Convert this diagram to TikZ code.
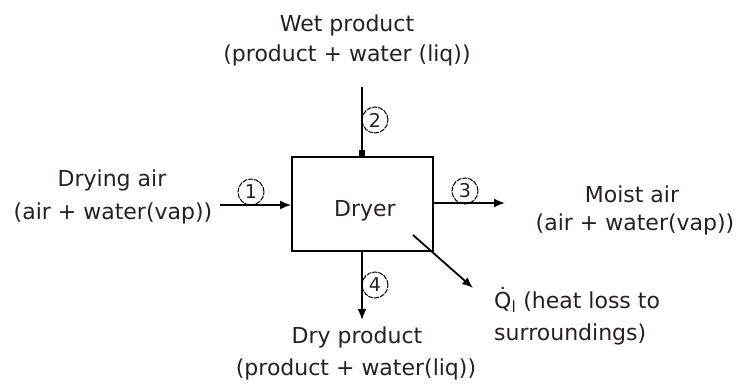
\documentclass[tikz,border=0pt]{standalone}
\usepackage{fontspec}
\setmainfont{DejaVu Sans}
\usetikzlibrary{arrows.meta}
\definecolor{txt}{RGB}{40,30,40}
\tikzset{
  lbl/.style={anchor=base, text=txt, inner sep=0pt, font=\fontsize{22}{26}\selectfont},
  num/.style={circle, draw, line width=1pt, dash pattern=on 5pt off 1pt, minimum size=26pt, inner sep=0pt, text=txt, font=\fontsize{19}{20}\selectfont},
  flow/.style={line width=1.8pt, -{Latex[length=11pt,width=9pt]}},
  unit/.style={draw, line width=1.8pt, minimum width=141pt, minimum height=94pt, inner sep=0pt, text=txt, text height=26pt, text depth=0pt, font=\fontsize{22}{26}\selectfont}
}
\begin{document}
\begin{tikzpicture}[x=1pt,y=-1pt]
\useasboundingbox (0,0) rectangle (737,385);
% box
\node[unit] (box) at (362.5,204) {\hspace{5pt}Dryer};
% stream 2
\coordinate (s2) at (362,87);
\draw[line width=1.8pt, -{Square[length=6pt,width=6pt]}] (s2) -- (s2 |- box.north);
\node[num] (n2) at (375,120) {2};
\node[lbl] (wet1) at (347,32) {Wet product};
\node[lbl] (wet2) at (347,62) {(product + water (liq))};
% stream 1
\coordinate (s1) at (220,205);
\draw[flow] (s1) -- (s1 -| box.west);
\node[num] (n1) at (251,192) {1};
\node[lbl] (dry1) at (112,187) {Drying air};
\node[lbl] (dry2) at (113,219) {(air + water(vap))};
% stream 3
\coordinate (s3) at (505,203);
\draw[flow] (s3 -| box.east) -- (s3);
\node[num] (n3) at (465,191) {3};
\node[lbl] (moist1) at (632,203) {Moist air};
\node[lbl] (moist2) at (635,231) {(air + water(vap))};
% stream 4
\coordinate (s4) at (362,320);
\draw[flow] (s4 |- box.south) -- (s4);
\node[num] (n4) at (375,285) {4};
\node[lbl] (dp1) at (357,343) {Dry product};
\node[lbl] (dp2) at (356,375) {(product + water(liq))};
% heat loss
\coordinate (q0) at (413,235);
\coordinate (q1) at (473,288);
\draw[flow] (q0) -- (q1);
\node[lbl, anchor=base west] (q1t) at (494,308) {Q̇\textsubscript{l} (heat loss to};
\node[lbl, anchor=base west] (q2t) at (494,340) {surroundings)};
\end{tikzpicture}
\end{document}
